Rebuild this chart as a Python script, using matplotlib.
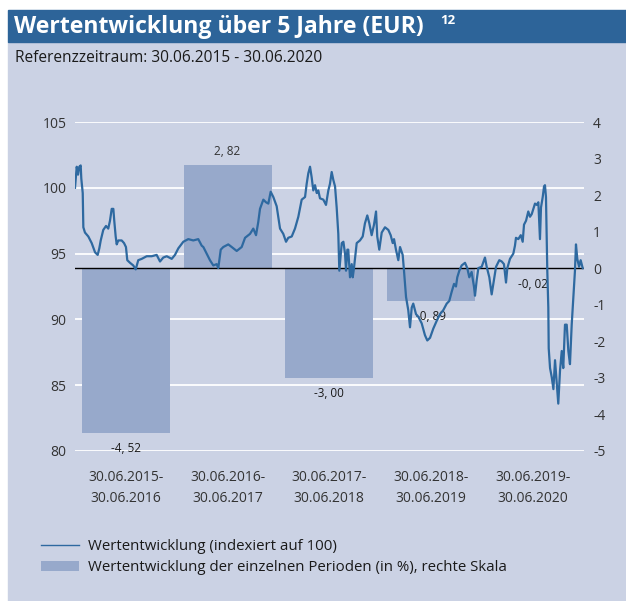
import numpy as np
import matplotlib.pyplot as plt
from matplotlib.patches import Rectangle, Patch
from matplotlib.lines import Line2D
from matplotlib import transforms

plt.rcParams['font.family'] = ['Open Sans', 'DejaVu Sans']

# period returns (right scale, in %)
periods = ['30.06.2015-\n30.06.2016', '30.06.2016-\n30.06.2017', '30.06.2017-\n30.06.2018',
           '30.06.2018-\n30.06.2019', '30.06.2019-\n30.06.2020']
period_returns = [-4.52, 2.82, -3.00, -0.89, -0.02]
period_labels = ['-4, 52', '2, 82', '-3, 00', '-0, 89', '-0, 02']

# indexed value (left scale), time in years since 30.06.2015
t_years = [0.0, 0.017, 0.03, 0.042, 0.056, 0.062, 0.076, 0.082, 0.098, 0.131,
           0.164, 0.197, 0.223, 0.239, 0.253, 0.278, 0.305, 0.327, 0.344, 0.361,
           0.377, 0.386, 0.40, 0.41, 0.426, 0.459, 0.482, 0.501, 0.514, 0.541,
           0.573, 0.597, 0.622, 0.656, 0.705, 0.754, 0.803, 0.836, 0.868, 0.902,
           0.951, 0.983, 1.016, 1.065, 1.114, 1.163, 1.212, 1.246, 1.262, 1.295,
           1.327, 1.36, 1.393, 1.409, 1.433, 1.458, 1.507, 1.541, 1.59, 1.639,
           1.672, 1.721, 1.753, 1.78, 1.802, 1.819, 1.852, 1.878, 1.901, 1.924,
           1.95, 1.983, 1.999, 2.016, 2.048, 2.075, 2.097, 2.131, 2.163, 2.196,
           2.229, 2.262, 2.278, 2.294, 2.311, 2.327, 2.343, 2.36, 2.377, 2.392,
           2.409, 2.442, 2.468, 2.491, 2.507, 2.524, 2.54, 2.557, 2.573, 2.589,
           2.599, 2.623, 2.639, 2.655, 2.665, 2.678, 2.687, 2.704, 2.721, 2.731,
           2.743, 2.77, 2.802, 2.829, 2.851, 2.874, 2.894, 2.917, 2.94, 2.96,
           2.972, 2.992, 3.016, 3.048, 3.081, 3.104, 3.124, 3.137, 3.156, 3.179,
           3.196, 3.222, 3.235, 3.255, 3.277, 3.294, 3.311, 3.326, 3.353, 3.376,
           3.409, 3.441, 3.464, 3.491, 3.523, 3.557, 3.589, 3.621, 3.655, 3.68,
           3.704, 3.727, 3.746, 3.759, 3.779, 3.802, 3.835, 3.857, 3.877, 3.9,
           3.923, 3.933, 3.95, 3.966, 3.999, 4.031, 4.048, 4.074, 4.097, 4.113,
           4.14, 4.172, 4.196, 4.218, 4.238, 4.251, 4.277, 4.31, 4.326, 4.336,
           4.359, 4.383, 4.402, 4.415, 4.435, 4.457, 4.474, 4.491, 4.507, 4.523,
           4.54, 4.556, 4.572, 4.582, 4.599, 4.612, 4.621, 4.631, 4.644, 4.654,
           4.658, 4.671, 4.688, 4.704, 4.72, 4.737, 4.752, 4.769, 4.786, 4.801,
           4.818, 4.835, 4.851, 4.867, 4.884, 4.9, 4.916, 4.926, 4.939, 4.956,
           4.972, 4.992]
index_values = [100.0, 101.6, 101.0, 101.6, 101.7, 100.7, 99.6, 97.0, 96.6, 96.3,
                95.8, 95.1, 94.9, 95.4, 96.0, 96.8, 97.1, 96.9, 97.5, 98.4,
                98.4, 97.5, 96.3, 95.7, 96.0, 96.0, 95.8, 95.5, 94.5, 94.3,
                94.1, 93.8, 94.5, 94.6, 94.8, 94.8, 94.9, 94.4, 94.7, 94.8,
                94.6, 94.9, 95.4, 95.9, 96.1, 96.0, 96.1, 95.6, 95.5, 95.0,
                94.5, 94.1, 94.2, 93.9, 95.3, 95.5, 95.7, 95.5, 95.2, 95.5,
                96.2, 96.5, 96.9, 96.4, 97.4, 98.4, 99.1, 98.9, 98.8, 99.7,
                99.3, 98.6, 97.8, 96.9, 96.5, 95.9, 96.2, 96.3, 96.9, 97.8,
                99.1, 99.3, 100.3, 101.1, 101.6, 100.8, 99.8, 100.2, 99.6, 99.8,
                99.2, 99.1, 98.7, 99.8, 100.3, 101.2, 100.6, 100.1, 98.5, 96.5,
                93.7, 95.8, 95.9, 95.0, 93.7, 95.3, 95.3, 93.2, 94.2, 93.2,
                93.9, 95.8, 96.0, 96.3, 97.3, 97.9, 97.3, 96.4, 97.2, 98.2,
                96.3, 95.3, 96.6, 97.0, 96.8, 96.4, 95.8, 96.1, 95.3, 94.5,
                95.5, 94.9, 93.7, 91.7, 90.7, 89.4, 90.9, 91.2, 90.4, 90.2,
                89.7, 88.8, 88.4, 88.6, 89.3, 89.9, 90.4, 90.7, 91.2, 91.4,
                92.1, 92.7, 92.5, 93.2, 93.7, 94.1, 94.3, 93.9, 93.2, 93.6,
                92.5, 91.8, 93.0, 93.9, 94.0, 94.7, 94.0, 93.2, 91.9, 92.7,
                94.0, 94.5, 94.4, 94.2, 92.8, 93.9, 94.6, 95.0, 95.6, 96.2,
                96.1, 96.4, 95.9, 97.2, 97.5, 98.2, 97.8, 98.0, 98.4, 98.8,
                98.7, 98.9, 96.1, 98.5, 99.3, 100.1, 100.2, 99.3, 93.7, 90.9,
                87.8, 86.3, 85.6, 84.7, 86.9, 85.1, 83.6, 86.1, 87.6, 86.3,
                89.6, 89.6, 87.6, 86.6, 89.6, 91.6, 93.7, 95.7, 94.6, 94.0,
                94.5, 93.9]

left_ticks = [80, 85, 90, 95, 100, 105]
right_ticks = [-5, -4, -3, -2, -1, 0, 1, 2, 3, 4]

BG = '#cbd2e4'
BAND = '#2d6499'
BAR = '#97a9cb'
LINE = '#2e69a0'
TXT = '#333333'

W, H = 626, 601
fig = plt.figure(figsize=(W / 100, H / 100), dpi=100)
fig.patch.set_facecolor('white')
fig.add_artist(Rectangle((8 / W, 0), 1, 1 - 42 / H, transform=fig.transFigure,
                         color=BG, zorder=0))
fig.add_artist(Rectangle((8 / W, 1 - 42 / H), 1, 32 / H, transform=fig.transFigure,
                         color=BAND, zorder=0))
fig.text(14 / W, 1 - 27 / H, 'Wertentwicklung über 5 Jahre (EUR)', color='white',
         fontsize=16.6, fontweight='bold', va='center', ha='left')
fig.text(440 / W, 1 - 20 / H, '12', color='white', fontsize=9.5, fontweight='bold',
         va='center', ha='left')
fig.text(15 / W, 1 - 58 / H, 'Referenzzeitraum: 30.06.2015 - 30.06.2020', color='#1a1a1a',
         fontsize=11.2, va='center', ha='left')

# bars on the primary axes (right scale), line on the twin (left scale)
ax = fig.add_axes([75 / W, 1 - 451 / H, 508.5 / W, 329 / H])
ax.set_facecolor('none')
ax2 = ax.twinx()
ax2.set_facecolor('none')

x = np.arange(len(periods)) + 0.5
ax.bar(x, period_returns, width=0.865, color=BAR, zorder=2)
ax.axhline(0, color='black', lw=1, zorder=3)
for xi, r, lab in zip(x, period_returns, period_labels):
    if r >= 0:
        ax.annotate(lab, (xi, r), xytext=(0, 10), textcoords='offset points',
                    ha='center', va='center', fontsize=8.5, color=TXT, zorder=5)
    else:
        ax.annotate(lab, (xi, r), xytext=(0, -11), textcoords='offset points',
                    ha='center', va='center', fontsize=8.5, color='#1a1a1a', zorder=5)

ax2.plot(t_years, index_values, color=LINE, lw=1.6, zorder=4)

ax.set_xlim(0, 5)
ax.set_ylim(-5, 4)
ax2.set_ylim(80, 105)

# white gridlines at the left-scale ticks, behind the bars
gtr = transforms.blended_transform_factory(ax.transAxes, ax2.transData)
for v in left_ticks:
    ax.plot([0, 1], [v, v], transform=gtr, color='white', lw=1.3, zorder=1)

ax.yaxis.tick_right()
ax.set_yticks(right_ticks)
ax.set_yticklabels([str(v) for v in right_ticks])
ax2.yaxis.tick_left()
ax2.set_yticks(left_ticks)
ax.set_xticks(x)
ax.set_xticklabels(periods, linespacing=1.55)
for a in (ax, ax2):
    for s in a.spines.values():
        s.set_visible(False)
    a.tick_params(length=0, labelsize=10, colors=TXT)
ax.tick_params(axis='y', pad=7)
ax2.tick_params(axis='y', pad=6)
ax.tick_params(axis='x', pad=14)

handles = [Line2D([], [], color=LINE, lw=1),
           Patch(facecolor=BAR, edgecolor='none')]
fig.legend(handles, ['Wertentwicklung (indexiert auf 100)',
                     'Wertentwicklung der einzelnen Perioden (in %), rechte Skala'],
           loc='upper left', bbox_to_anchor=(35 / W, 1 - 533 / H), frameon=False,
           fontsize=10.8, handlelength=2.5, handletextpad=0.65, labelspacing=0.42,
           borderaxespad=0, labelcolor='#1a1a1a')

fig.savefig('out.png', dpi=100)
